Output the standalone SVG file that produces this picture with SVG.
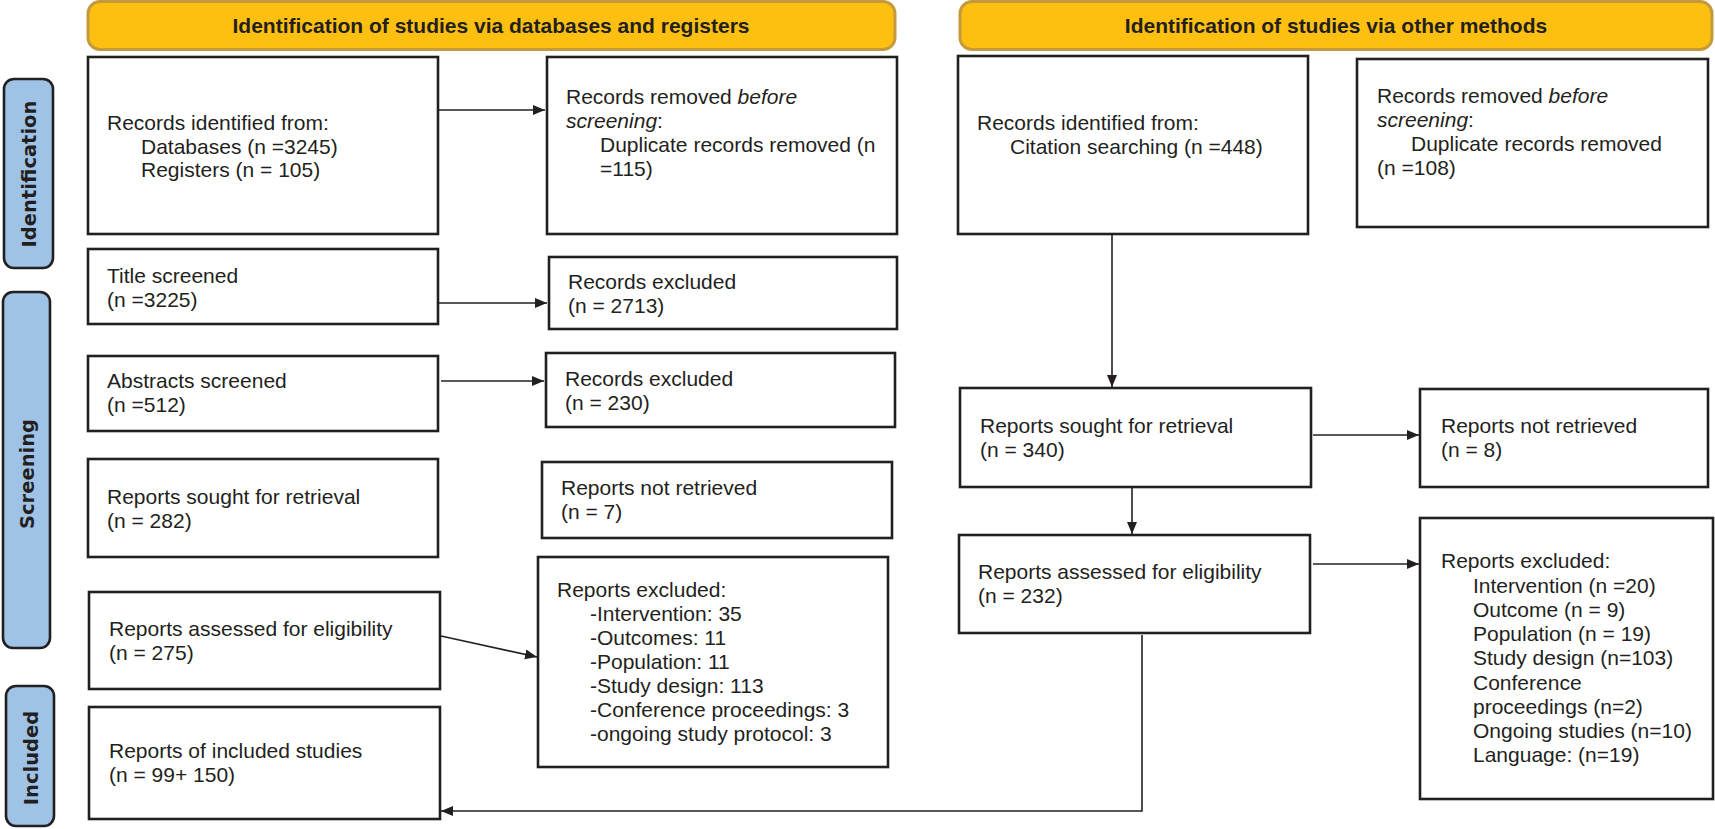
<svg xmlns="http://www.w3.org/2000/svg" width="1715" height="829" viewBox="0 0 1715 829">
<defs>
<style>
.box{fill:#fff;stroke:#231f20;stroke-width:2.6}
.hdr{fill:#fdc011;stroke:#c49a3c;stroke-width:3}
.side{fill:#9fc3e7;stroke:#231f20;stroke-width:2.6}
.t{font-family:"Liberation Sans",Arial,sans-serif;font-size:21px;fill:#231f20}
.ht{font-family:"Liberation Sans",Arial,sans-serif;font-size:21px;font-weight:bold;fill:#231f20;text-anchor:middle}
.st{font-family:"DejaVu Sans",Verdana,sans-serif;font-size:19.5px;font-weight:bold;fill:#231f20;text-anchor:middle}
.c{fill:none;stroke:#231f20;stroke-width:1.6}
</style>
<marker id="a" viewBox="0 0 12 12" refX="12" refY="6" markerWidth="12" markerHeight="12" markerUnits="userSpaceOnUse" orient="auto">
<path d="M0,1 L12,6 L0,11 z" fill="#231f20"/>
</marker>
</defs>

<g id="header-left"><rect class="hdr" x="88" y="1.5" width="807" height="48" rx="12"/><text class="ht" x="491" y="33">Identification of studies via databases and registers</text></g>
<g id="header-right"><rect class="hdr" x="960" y="1.5" width="752" height="48" rx="12"/><text class="ht" x="1336" y="33">Identification of studies via other methods</text></g>

<g id="side-identification"><rect class="side" x="4" y="79" width="49" height="189" rx="10"/><text class="st" transform="translate(35.5,174) rotate(-90)">Identification</text></g>
<g id="side-screening"><rect class="side" x="3" y="292" width="47" height="356" rx="10"/><text class="st" transform="translate(33.5,474) rotate(-90)">Screening</text></g>
<g id="side-included"><rect class="side" x="6" y="686" width="48" height="140" rx="10"/><text class="st" transform="translate(37.5,758) rotate(-90)">Included</text></g>

<g id="records-identified-db"><rect class="box" x="88" y="57" width="350" height="177"/><text class="t"><tspan x="107" y="130">Records identified from:</tspan><tspan x="141" y="153.5">Databases (n =3245)</tspan><tspan x="141" y="177">Registers (n = 105)</tspan></text></g>
<g id="records-removed-db"><rect class="box" x="547" y="57" width="350" height="177"/><text class="t"><tspan x="566" y="104">Records removed <tspan font-style="italic">before</tspan></tspan><tspan x="566" y="128"><tspan font-style="italic">screening</tspan>:</tspan><tspan x="600" y="152">Duplicate records removed (n</tspan><tspan x="600" y="176">=115)</tspan></text></g>
<g id="title-screened"><rect class="box" x="88" y="249" width="350" height="75"/><text class="t"><tspan x="107" y="283">Title screened</tspan><tspan x="107" y="307">(n =3225)</tspan></text></g>
<g id="records-excluded-1"><rect class="box" x="549" y="257" width="348" height="72"/><text class="t"><tspan x="568" y="289">Records excluded</tspan><tspan x="568" y="313">(n = 2713)</tspan></text></g>
<g id="abstracts-screened"><rect class="box" x="88" y="356" width="350" height="75"/><text class="t"><tspan x="107" y="388">Abstracts screened</tspan><tspan x="107" y="412">(n =512)</tspan></text></g>
<g id="records-excluded-2"><rect class="box" x="546" y="353" width="349" height="74"/><text class="t"><tspan x="565" y="386">Records excluded</tspan><tspan x="565" y="410">(n = 230)</tspan></text></g>
<g id="reports-sought-db"><rect class="box" x="88" y="459" width="350" height="98"/><text class="t"><tspan x="107" y="504">Reports sought for retrieval</tspan><tspan x="107" y="528">(n = 282)</tspan></text></g>
<g id="reports-not-retrieved-db"><rect class="box" x="542" y="462" width="350" height="76"/><text class="t"><tspan x="561" y="495">Reports not retrieved</tspan><tspan x="561" y="519">(n = 7)</tspan></text></g>
<g id="reports-assessed-db"><rect class="box" x="89" y="592" width="351" height="97"/><text class="t"><tspan x="109" y="636">Reports assessed for eligibility</tspan><tspan x="109" y="660">(n = 275)</tspan></text></g>
<g id="reports-excluded-db"><rect class="box" x="538" y="557" width="350" height="210"/><text class="t"><tspan x="557" y="597">Reports excluded:</tspan><tspan x="590" y="621">-Intervention: 35</tspan><tspan x="590" y="645">-Outcomes: 11</tspan><tspan x="590" y="669">-Population: 11</tspan><tspan x="590" y="693">-Study design: 113</tspan><tspan x="590" y="717">-Conference proceedings: 3</tspan><tspan x="590" y="741">-ongoing study protocol: 3</tspan></text></g>
<g id="reports-included"><rect class="box" x="89" y="707" width="351" height="112"/><text class="t"><tspan x="109" y="758">Reports of included studies</tspan><tspan x="109" y="782">(n = 99+ 150)</tspan></text></g>

<g id="records-identified-other"><rect class="box" x="958" y="56" width="350" height="178"/><text class="t"><tspan x="977" y="130">Records identified from:</tspan><tspan x="1010" y="153.5">Citation searching (n =448)</tspan></text></g>
<g id="records-removed-other"><rect class="box" x="1357" y="59" width="351" height="168"/><text class="t"><tspan x="1377" y="103">Records removed <tspan font-style="italic">before</tspan></tspan><tspan x="1377" y="127"><tspan font-style="italic">screening</tspan>:</tspan><tspan x="1411" y="151">Duplicate records removed</tspan><tspan x="1377" y="175">(n =108)</tspan></text></g>
<g id="reports-sought-other"><rect class="box" x="960" y="388" width="351" height="99"/><text class="t"><tspan x="980" y="433">Reports sought for retrieval</tspan><tspan x="980" y="457">(n = 340)</tspan></text></g>
<g id="reports-not-retrieved-other"><rect class="box" x="1420" y="389" width="288" height="98"/><text class="t"><tspan x="1441" y="433">Reports not retrieved</tspan><tspan x="1441" y="457">(n = 8)</tspan></text></g>
<g id="reports-assessed-other"><rect class="box" x="959" y="535" width="351" height="98"/><text class="t"><tspan x="978" y="579">Reports assessed for eligibility</tspan><tspan x="978" y="603">(n = 232)</tspan></text></g>
<g id="reports-excluded-other"><rect class="box" x="1420" y="518" width="293" height="281"/><text class="t"><tspan x="1441" y="568">Reports excluded:</tspan><tspan x="1473" y="593">Intervention (n =20)</tspan><tspan x="1473" y="617">Outcome (n = 9)</tspan><tspan x="1473" y="641">Population (n = 19)</tspan><tspan x="1473" y="665">Study design (n=103)</tspan><tspan x="1473" y="690">Conference</tspan><tspan x="1473" y="714">proceedings (n=2)</tspan><tspan x="1473" y="738">Ongoing studies (n=10)</tspan><tspan x="1473" y="762">Language: (n=19)</tspan></text></g>

<g id="connectors">
<line class="c" x1="439" y1="110" x2="545" y2="110" marker-end="url(#a)"/>
<line class="c" x1="439" y1="303" x2="547" y2="303" marker-end="url(#a)"/>
<line class="c" x1="441" y1="381" x2="544" y2="381" marker-end="url(#a)"/>
<line class="c" x1="441" y1="636" x2="537" y2="657" marker-end="url(#a)"/>
<line class="c" x1="1112" y1="235" x2="1112" y2="387" marker-end="url(#a)"/>
<line class="c" x1="1313" y1="435" x2="1419" y2="435" marker-end="url(#a)"/>
<line class="c" x1="1132" y1="488" x2="1132" y2="534" marker-end="url(#a)"/>
<line class="c" x1="1313" y1="564" x2="1419" y2="564" marker-end="url(#a)"/>
<polyline class="c" points="1142,635 1142,811 441,811" marker-end="url(#a)"/>
</g>
</svg>
